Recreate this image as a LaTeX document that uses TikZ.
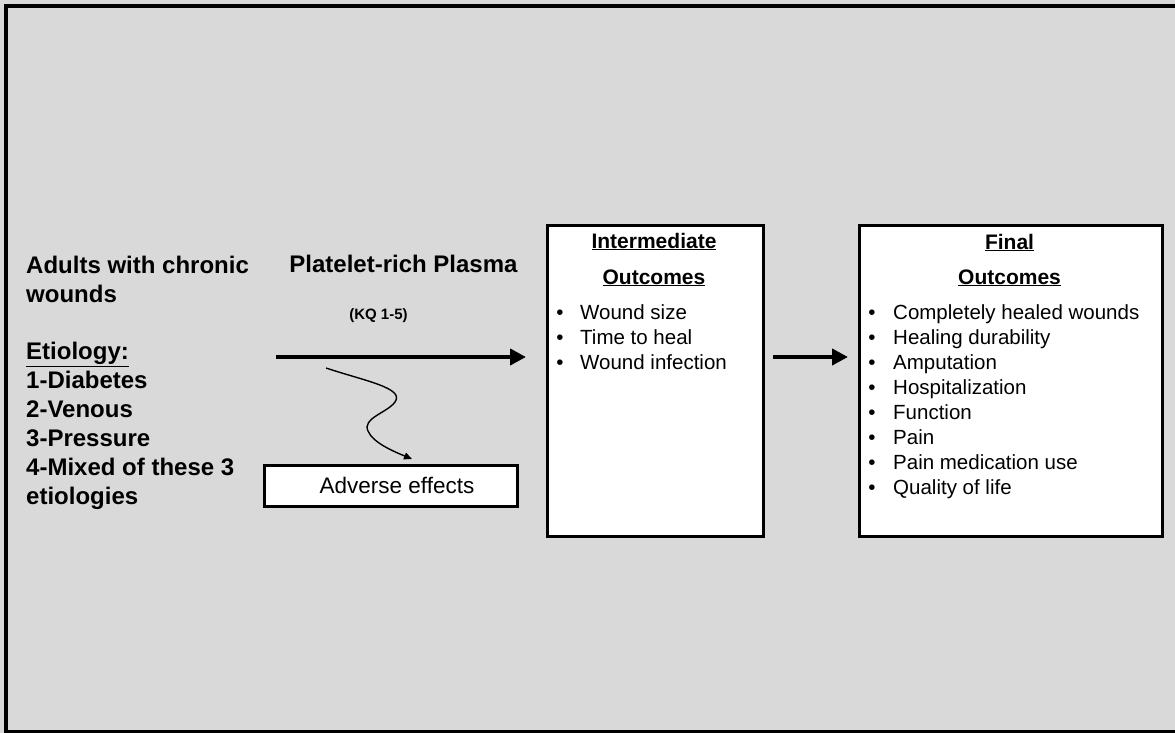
\documentclass[tikz,border=0pt]{standalone}
\usepackage{fontspec}
\setmainfont{Liberation Sans}
\usetikzlibrary{arrows.meta}
\definecolor{bg}{HTML}{D9D9D9}
\tikzset{
  boxnode/.style={draw=black, line width=3pt, fill=white, inner sep=0pt, anchor=north west},
  lefttext/.style={font=\fontsize{24}{29}\selectfont\bfseries, inner sep=0pt, anchor=base west},
  headtext/.style={font=\fontsize{21}{25}\selectfont\bfseries, inner sep=0pt, anchor=base},
  itemtext/.style={font=\fontsize{20.5}{25}\selectfont, inner sep=0pt, anchor=base west},
  bullettext/.style={font=\fontsize{20.5}{25}\selectfont, inner sep=0pt, anchor=base},
  bigarrow/.style={line width=4pt, -{Triangle[length=16pt,width=16pt]}},
  wavearrow/.style={line width=1.4pt, -{Triangle[length=8pt,width=7pt]}},
}
\begin{document}
\begin{tikzpicture}[x=1pt,y=-1pt]
\useasboundingbox (0,0) rectangle (1175,733);
\clip (0,0) rectangle (1175,733);
\fill[bg] (0,0) rectangle (1175,733);
\draw[line width=4pt] (6,6) rectangle (1190,732);

% left column
\node[lefttext] (l1) at (26,273) {Adults with chronic};
\node[lefttext] (l2) at (26,302) {wounds};
\node[lefttext] (l3) at (26,359.5) {\underline{Etiology:}};
\node[lefttext] (l4) at (26,388.5) {1-Diabetes};
\node[lefttext] (l5) at (26,417.5) {2-Venous};
\node[lefttext] (l6) at (26,446.5) {3-Pressure};
\node[lefttext] (l7) at (26,475.5) {4-Mixed of these 3};
\node[lefttext] (l8) at (26,504.5) {etiologies};

% intervention
\node[font=\fontsize{24}{29}\selectfont\bfseries, inner sep=0pt, anchor=base] (prp) at (403.5,272.5) {Platelet-rich Plasma};
\node[font=\fontsize{15}{18}\selectfont\bfseries, inner sep=0pt, anchor=base] (kq) at (378.5,319) {(KQ 1-5)};

% adverse effects
\node[draw=black, line width=3pt, fill=white, minimum width=253pt, minimum height=41pt, inner sep=0pt,
      font=\fontsize{22.5}{27}\selectfont] (adv) at (390.5,485.5) {\hspace{13pt}Adverse effects};

% intermediate outcomes box
\node[boxnode, minimum width=216pt, minimum height=311.5pt] (inter) at (546,223.5) {};
\node[headtext] (ih1) at (654,248) {\underline{Intermediate}};
\node[headtext] (ih2) at (654,284) {\underline{Outcomes}};
\foreach \t [count=\i] in {Wound size, Time to heal, Wound infection}{
  \node[bullettext] (ib\i) at (560,{319+25*(\i-1)}) {•};
  \node[itemtext] (ii\i) at (580,{319+25*(\i-1)}) {\t};
}

% final outcomes box
\node[boxnode, minimum width=303pt, minimum height=311.5pt] (final) at (858,223.5) {};
\node[headtext] (fh1) at (1009.5,249) {\underline{Final}};
\node[headtext] (fh2) at (1009.5,284) {\underline{Outcomes}};
\foreach \t [count=\i] in {Completely healed wounds, Healing durability, Amputation, Hospitalization, Function, Pain, Pain medication use, Quality of life}{
  \node[bullettext] (fb\i) at (872,{319+25*(\i-1)}) {•};
  \node[itemtext] (fi\i) at (893,{319+25*(\i-1)}) {\t};
}

% connectors
\coordinate (a1) at (276,357);
\coordinate (a1end) at (526,357);
\draw[bigarrow] (a1) -- (a1end);
\draw[bigarrow, shorten <=8pt, shorten >=10pt] (inter.east |- a1) -- (final.west |- a1);

\coordinate (w0) at (326,368);
\coordinate (w3) at (412,459);
\draw[wavearrow] (w0) .. controls (365,381) and (405,388) .. (395,402)
  .. controls (387,413) and (362,418) .. (368,431)
  .. controls (373,443) and (395,452) .. (w3);
\end{tikzpicture}
\end{document}
